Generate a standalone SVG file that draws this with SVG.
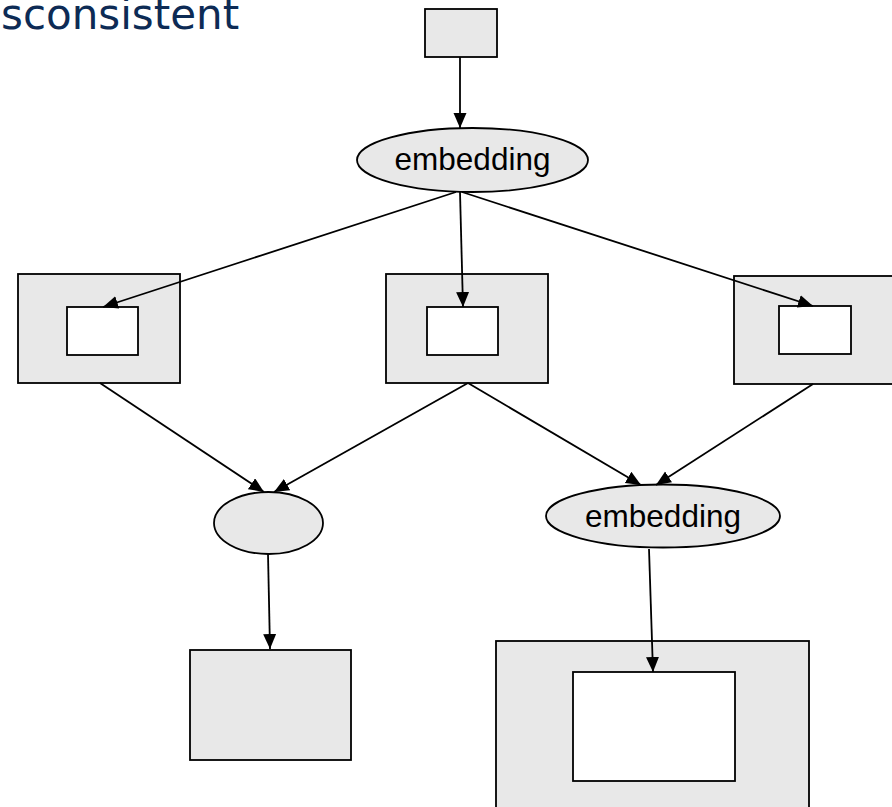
<svg xmlns="http://www.w3.org/2000/svg" width="892" height="807" viewBox="0 0 892 807">
<style>
.box{fill:#e8e8e8;stroke:#000;stroke-width:1.8}
.inner{fill:#fff;stroke:#000;stroke-width:1.8}
.ell{fill:#e8e8e8;stroke:#000;stroke-width:1.8}
.lbl{font-family:"Liberation Sans",Arial,sans-serif;font-size:31.5px;fill:#000;text-anchor:middle}
.title{font-family:"DejaVu Sans",Verdana,sans-serif;font-size:42px;fill:#0d2b55}
.edge{stroke:#000;stroke-width:1.8;fill:none;marker-end:url(#ah)}
</style>
<defs>
<marker id="ah" markerUnits="userSpaceOnUse" markerWidth="16" markerHeight="14" refX="15" refY="6.5" orient="auto" viewBox="0 0 16 14">
<path d="M0,0 L15,6.5 L0,13 z" fill="#000"/>
</marker>
</defs>
<rect width="892" height="807" fill="#fff"/>
<text class="title" x="1" y="29">sconsistent</text>
<g id="top"><rect class="box" x="425" y="9" width="72" height="48"/></g>
<g id="embedding1"><ellipse class="ell" cx="472.5" cy="160" rx="115.5" ry="32"/><text class="lbl" x="472.5" y="170">embedding</text></g>
<g id="leftbox"><rect class="box" x="18" y="274" width="162" height="109"/><rect class="inner" x="67" y="307" width="71" height="48"/></g>
<g id="midbox"><rect class="box" x="386" y="274" width="162" height="109"/><rect class="inner" x="427" y="307" width="71" height="48"/></g>
<g id="rightbox"><rect class="box" x="734" y="276" width="162" height="108"/><rect class="inner" x="779" y="306" width="72" height="48"/></g>
<g id="ellipse2"><ellipse class="ell" cx="268.5" cy="523" rx="54.5" ry="31"/></g>
<g id="embedding2"><ellipse class="ell" cx="663" cy="516" rx="117" ry="31.5"/><text class="lbl" x="663" y="527">embedding</text></g>
<g id="bottomleft"><rect class="box" x="190" y="650" width="161" height="110"/></g>
<g id="bottomright"><rect class="box" x="496" y="641" width="313" height="180"/><rect class="inner" x="573" y="672" width="162" height="109"/></g>
<g id="connectors">
<line class="edge" x1="460" y1="57" x2="460" y2="128"/>
<line class="edge" x1="456" y1="192" x2="103" y2="307"/>
<line class="edge" x1="460" y1="192" x2="463" y2="307"/>
<line class="edge" x1="462" y1="192" x2="813" y2="306"/>
<line class="edge" x1="100" y1="383" x2="264" y2="492"/>
<line class="edge" x1="468" y1="383" x2="274" y2="492"/>
<line class="edge" x1="468" y1="383" x2="641" y2="485"/>
<line class="edge" x1="813" y1="384" x2="656" y2="485"/>
<line class="edge" x1="268" y1="554" x2="270" y2="649"/>
<line class="edge" x1="649" y1="549" x2="653" y2="672"/>
</g>
</svg>
